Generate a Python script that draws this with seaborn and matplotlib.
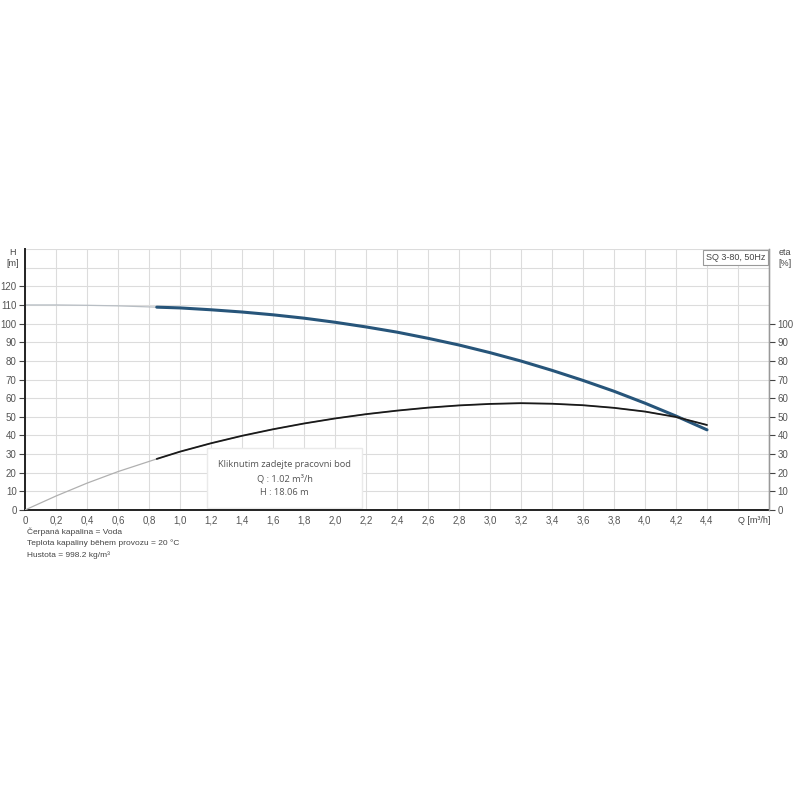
import numpy as np
import pandas as pd
import matplotlib.pyplot as plt
import seaborn as sns

# ─── DATA ───────────────────────────────────────────────────────────────────────
Q = [0.0, 0.2, 0.4, 0.6, 0.85, 1.0, 1.2, 1.4, 1.6, 1.8, 2.0, 2.2, 2.4,
     2.6, 2.8, 3.0, 3.2, 3.4, 3.6, 3.8, 4.0, 4.2, 4.4]
H = [110.0, 110.0, 109.8, 109.5, 108.8, 108.4, 107.4, 106.2, 104.7, 102.9,
     100.7, 98.2, 95.4, 92.1, 88.5, 84.4, 79.9, 74.9, 69.5, 63.7, 57.3, 50.4, 43.0]
ETA = [0.0, 7.5, 14.4, 20.6, 27.4, 31.3, 35.8, 39.8, 43.3, 46.4, 49.1, 51.4,
       53.3, 54.9, 56.1, 56.9, 57.3, 57.0, 56.2, 54.8, 52.8, 49.9, 45.6]
Q_MIN = 0.85  # start of recommended range (thick part)

X_TICKS = [round(0.2 * i, 1) for i in range(23)]
H_TICKS = list(range(0, 130, 10))
ETA_TICKS = list(range(0, 110, 10))

df = pd.DataFrame({"Q": Q, "H": H, "eta": ETA})
df_main = df[df["Q"] >= Q_MIN]

# ─── STYLE ──────────────────────────────────────────────────────────────────────
sns.set_style("white")
plt.rcParams["font.family"] = ["Liberation Sans", "DejaVu Sans"]

fig = plt.figure(figsize=(8, 8), dpi=100)
ax = fig.add_axes([25 / 800, 290 / 800, 744 / 800, 261 / 800])
ax2 = ax.twinx()

# ─── CURVES ─────────────────────────────────────────────────────────────────────
sns.lineplot(data=df, x="Q", y="H", ax=ax, color="#b8bec4", lw=0.9)
sns.lineplot(data=df_main, x="Q", y="H", ax=ax, color="#27557a", lw=2.2,
             solid_joinstyle="round")
sns.lineplot(data=df, x="Q", y="eta", ax=ax2, color="#b0b0b0", lw=0.9)
sns.lineplot(data=df_main, x="Q", y="eta", ax=ax2, color="#1a1a1a", lw=1.3,
             solid_joinstyle="round")
ax.set_xlabel("")
ax.set_ylabel("")
ax2.set_ylabel("")

grid_c = "#dcdcdc"
ax.set_xlim(0, 4.8)
ax.set_ylim(0, 140)
ax2.set_ylim(0, 140)
xt = np.round(np.arange(0, 4.81, 0.2), 1)
ax.set_xticks(xt)
ax.set_xticklabels([("0" if t == 0 else f"{t:.1f}".replace(".", ","))
                    if t in X_TICKS else "" for t in xt])
ax.set_yticks(H_TICKS)
ax.set_yticks([130, 140], minor=True)
ax.grid(True, which="both", color=grid_c, lw=0.8)
ax.set_axisbelow(True)
ax2.set_yticks(ETA_TICKS)
ax2.set_yticklabels([str(t) for t in ETA_TICKS])

ax.tick_params(axis="x", length=0, pad=4, labelsize=7, labelcolor="#555555")
ax.tick_params(axis="y", which="major", length=4, width=0.8, color="#444444",
               pad=2, labelsize=7, labelcolor="#555555")
ax.tick_params(axis="y", which="minor", length=0)
ax2.tick_params(axis="y", length=4, width=0.8, color="#444444", pad=2,
                labelsize=7, labelcolor="#555555")

for a in (ax, ax2):
    a.spines["top"].set_visible(False)
ax.spines["left"].set_color("#222222")
ax.spines["left"].set_linewidth(1.4)
ax.spines["bottom"].set_color("#222222")
ax.spines["bottom"].set_linewidth(1.4)
ax2.spines["left"].set_visible(False)
ax2.spines["bottom"].set_visible(False)
ax2.spines["right"].set_color("#999999")
ax2.spines["right"].set_linewidth(1.0)

# ─── TEXTS ──────────────────────────────────────────────────────────────────────
txt_c = "#444444"
fig.text(13 / 800, 1 - 258 / 800, "H\n[m]", ha="center", va="center",
         fontsize=6.5, color=txt_c, linespacing=1.15)
fig.text(785 / 800, 1 - 258 / 800, "eta\n[%]", ha="center", va="center",
         fontsize=6.5, color=txt_c, linespacing=1.15)
ax.text(4.6, -3.2, "Q [m³/h]", ha="left", va="top", fontsize=6.5, color=txt_c)
ax.text(0.995, 0.985, "SQ 3-80, 50Hz", transform=ax.transAxes, ha="right",
        va="top", fontsize=6.5, color=txt_c,
        bbox=dict(boxstyle="square,pad=0.35", fc="white", ec="#999999", lw=0.8))

# info box sits under the spines (spines are drawn at zorder 2.5)
ax.text(0.349, 0.121, "Kliknutim zadejte pracovni bod\nQ : 1.02 m³/h\nH : 18.06 m",
        transform=ax.transAxes, ha="center", va="center", fontsize=6.7,
        color="#555555", linespacing=1.7, family=["Open Sans", "DejaVu Sans"],
        zorder=2.2,
        bbox=dict(boxstyle="square,pad=1.2", fc="white", ec="#eaeaea", lw=1.0))

fig.text(27 / 800, 1 - 527 / 800,
         "Čerpaná kapalina = Voda\nTeplota kapaliny během provozu = 20 °C\nHustota = 998.2 kg/m³",
         ha="left", va="top", fontsize=6.0, color="#444444", linespacing=1.75)

fig.savefig("out.png", dpi=100, facecolor="white")
